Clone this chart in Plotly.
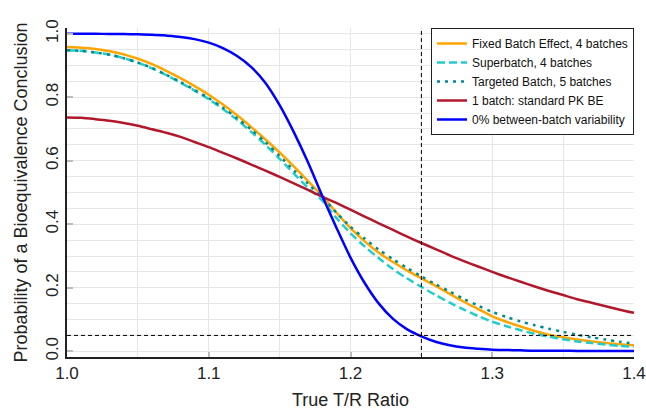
import plotly.graph_objects as go

# ---- data ----
ratio = [round(1.0 + 0.01 * i, 2) for i in range(41)]

fixed_batch = [0.958, 0.956, 0.952, 0.945, 0.935, 0.921, 0.904, 0.883, 0.860, 0.835,
               0.808, 0.777, 0.743, 0.706, 0.667, 0.626, 0.582, 0.536, 0.489, 0.437,
               0.388, 0.346, 0.310, 0.281, 0.254, 0.230, 0.206, 0.181, 0.156, 0.133,
               0.110, 0.093, 0.078, 0.064, 0.052, 0.044, 0.037, 0.031, 0.026, 0.022,
               0.019]

superbatch = [0.948, 0.946, 0.941, 0.934, 0.923, 0.909, 0.891, 0.870, 0.846, 0.821,
              0.794, 0.763, 0.729, 0.691, 0.650, 0.606, 0.560, 0.515, 0.475, 0.420,
              0.372, 0.330, 0.293, 0.259, 0.229, 0.203, 0.177, 0.153, 0.131, 0.111,
              0.093, 0.079, 0.066, 0.055, 0.046, 0.038, 0.031, 0.026, 0.021, 0.017,
              0.014]

targeted = [0.948, 0.946, 0.941, 0.934, 0.923, 0.909, 0.892, 0.871, 0.848, 0.823,
            0.797, 0.767, 0.734, 0.698, 0.658, 0.615, 0.570, 0.528, 0.485, 0.437,
            0.392, 0.355, 0.320, 0.290, 0.262, 0.236, 0.211, 0.188, 0.165, 0.144,
            0.124, 0.108, 0.094, 0.082, 0.071, 0.061, 0.052, 0.044, 0.037, 0.030,
            0.024]

one_batch = [0.736, 0.735, 0.731, 0.726, 0.719, 0.710, 0.699, 0.688, 0.675, 0.659,
             0.643, 0.625, 0.607, 0.588, 0.569, 0.549, 0.529, 0.508, 0.487, 0.467,
             0.446, 0.424, 0.403, 0.382, 0.361, 0.341, 0.322, 0.302, 0.284, 0.267,
             0.250, 0.234, 0.219, 0.204, 0.190, 0.177, 0.164, 0.153, 0.142, 0.131,
             0.121]

zero_var = [1.000, 1.000, 1.000, 0.999, 0.999, 0.998, 0.997, 0.994, 0.990, 0.983,
            0.972, 0.955, 0.930, 0.895, 0.845, 0.775, 0.690, 0.595, 0.490, 0.390,
            0.295, 0.215, 0.150, 0.102, 0.069, 0.047, 0.030, 0.019, 0.012, 0.008,
            0.005, 0.004, 0.003, 0.002, 0.002, 0.002, 0.001, 0.001, 0.001, 0.001,
            0.001]

series_names = ["Fixed Batch Effect, 4 batches", "Superbatch, 4 batches",
                "Targeted Batch, 5 batches", "1 batch: standard PK BE",
                "0% between-batch variability"]

ref_ratio = 1.25
ref_prob = 0.05

x_ticks = [1.0, 1.1, 1.2, 1.3, 1.4]
y_ticks = [0.0, 0.2, 0.4, 0.6, 0.8, 1.0]

FONT = "Liberation Sans, Arial, sans-serif"

styles = [
    dict(color="#FFA500", width=2.5, dash="solid"),
    dict(color="#22CCCC", width=2.5, dash="8px,4px"),
    dict(color="#008B8B", width=2.5, dash="3px,5px"),
    dict(color="#B2182B", width=2.5, dash="solid"),
    dict(color="#0000FF", width=2.5, dash="solid"),
]

fig = go.Figure()
for name, ys, st in zip(series_names,
                        [fixed_batch, superbatch, targeted, one_batch, zero_var],
                        styles):
    fig.add_trace(go.Scatter(x=ratio, y=ys, mode="lines", name=name,
                             line=dict(color=st["color"], width=st["width"],
                                       dash=st["dash"], shape="spline", smoothing=0.8)))

fig.add_vline(x=ref_ratio, line=dict(color="black", width=1, dash="4px,3px"), layer="above")
fig.add_hline(y=ref_prob, line=dict(color="black", width=1, dash="4px,3px"), layer="above")

grid = "#E6E6E6"
fig.update_layout(
    width=646, height=410,
    margin=dict(l=67, r=12, t=28, b=53, autoexpand=False),
    paper_bgcolor="white", plot_bgcolor="white",
    font=dict(family=FONT, size=16, color="#222"),
    showlegend=True,
    legend=dict(x=1.0, y=1.0, xanchor="right", yanchor="top",
                bgcolor="white", bordercolor="#222", borderwidth=1,
                font=dict(family=FONT, size=12, color="#111"),
                tracegroupgap=0),
    xaxis=dict(range=[1.0, 1.4], tickvals=x_ticks, ticktext=[f"{v:.1f}" for v in x_ticks],
               showgrid=True, gridcolor=grid, gridwidth=1,
               minor=dict(dtick=0.05, showgrid=True, gridcolor=grid, gridwidth=1),
               ticks="inside", ticklen=5, tickwidth=2, tickcolor="#BBBBBB",
               showline=True, linecolor="#222", linewidth=1.5, mirror=False,
               zeroline=False, automargin=False,
               title=dict(text="True T/R Ratio", font=dict(size=18), standoff=11),
               tickfont=dict(size=17)),
    yaxis=dict(range=[-0.018, 1.018], tickvals=y_ticks, ticktext=[f"{v:.1f}" for v in y_ticks],
               showgrid=True, gridcolor=grid, gridwidth=1,
               minor=dict(dtick=0.05, showgrid=True, gridcolor=grid, gridwidth=1),
               ticks="inside", ticklen=6, tickwidth=2, tickcolor="#BBBBBB",
               showline=True, linecolor="#222", linewidth=1.5, mirror=False,
               zeroline=False, automargin=False, tickangle=-90,
               title=dict(text="Probability of a Bioequivalence Conclusion",
                          font=dict(size=18), standoff=11),
               tickfont=dict(size=17)),
)

fig.write_html("out.html", config={"displayModeBar": False},
               post_script="document.body.style.margin='0';document.body.style.overflow='hidden';")
